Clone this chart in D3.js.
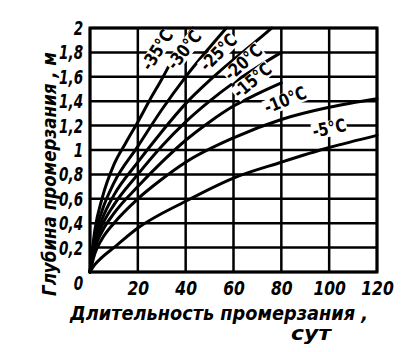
<!DOCTYPE html>
<html><head><meta charset="utf-8">
<script src="https://cdn.jsdelivr.net/npm/d3@7/dist/d3.min.js"></script>
<style>body{margin:0;background:#fff;} svg{display:block}</style>
</head><body><svg id="c" width="419" height="352"></svg>
<script>
// ---- data ----
const xTicks = [0, 20, 40, 60, 80, 100, 120];
const xTickLabels = ["", "20", "40", "60", "80", "100", "120"];
const yTicks = [0, 0.2, 0.4, 0.6, 0.8, 1.0, 1.2, 1.4, 1.6, 1.8, 2.0];
const yTickLabels = ["0", "0,2", "0,4", "0,6", "0,8", "1", "1,2", "1,4", "1,6", "1,8", "2"];
const seriesNames = ["-35°C", "-30°C", "-25°C", "-20°C", "-15°C", "-10°C", "-5°C"];

const days35 = [0, 2, 5, 10, 15, 20, 25, 30, 35, 43];
const depth35 = [0, 0.34, 0.6, 0.88, 1.06, 1.23, 1.41, 1.58, 1.76, 2.0];
const days30 = [0, 2, 5, 10, 20, 30, 40, 50, 57];
const depth30 = [0, 0.29, 0.5, 0.73, 1.03, 1.33, 1.6, 1.84, 2.0];
const days25 = [0, 2, 5, 10, 20, 30, 40, 50, 60, 70, 76];
const depth25 = [0, 0.25, 0.43, 0.63, 0.9, 1.15, 1.38, 1.57, 1.74, 1.9, 2.0];
const days20 = [0, 2, 5, 10, 20, 30, 40, 50, 60, 70, 80];
const depth20 = [0, 0.22, 0.38, 0.55, 0.8, 1.03, 1.23, 1.4, 1.55, 1.68, 1.8];
const days15 = [0, 2, 5, 10, 20, 30, 40, 50, 60, 70, 80];
const depth15 = [0, 0.19, 0.33, 0.48, 0.7, 0.9, 1.08, 1.23, 1.36, 1.46, 1.55];
const days10 = [0, 2, 5, 10, 20, 30, 40, 60, 80, 100, 120];
const depth10 = [0, 0.15, 0.27, 0.4, 0.6, 0.76, 0.9, 1.1, 1.25, 1.35, 1.42];
const days5 = [0, 2, 5, 10, 20, 40, 60, 80, 100, 120];
const depth5 = [0, 0.06, 0.12, 0.2, 0.36, 0.58, 0.77, 0.9, 1.02, 1.12];

// label anchor (in data units) and rotation for each curve label
const labelDays = [28, 39.3, 53.6, 64, 67.8, 81.6, 100];
const labelDepth = [1.82, 1.82, 1.8, 1.72, 1.57, 1.41, 1.18];
const labelAngle = [-58, -52, -45, -42, -40, -22, -12];

// ---- chart ----
const svg = d3.select("#c");
const x = d3.scaleLinear().domain([0, 120]).range([90, 377]);
const y = d3.scaleLinear().domain([0, 2]).range([272, 28]);
const fontF = "'DejaVu Sans',sans-serif";

// grid
svg.append("g").selectAll("line").data(xTicks).join("line")
  .attr("x1", d => x(d)).attr("x2", d => x(d))
  .attr("y1", y(0)).attr("y2", y(2))
  .attr("stroke", "#000").attr("stroke-width", 2.5);
svg.append("g").selectAll("line").data(yTicks).join("line")
  .attr("x1", x(0)).attr("x2", x(120))
  .attr("y1", d => y(d)).attr("y2", d => y(d))
  .attr("stroke", "#000").attr("stroke-width", 2.5);

// tick labels via d3 axes
const ax = svg.append("g").attr("transform", `translate(0,${y(0)})`)
  .call(d3.axisBottom(x).tickValues(xTicks).tickSize(0).tickPadding(9)
    .tickFormat((d, i) => xTickLabels[i]));
const ay = svg.append("g").attr("transform", `translate(${x(0)},0)`)
  .call(d3.axisLeft(y).tickValues(yTicks).tickSize(0).tickPadding(10)
    .tickFormat((d, i) => yTickLabels[i]));
[ax, ay].forEach(g => {
  g.select(".domain").remove();
  g.selectAll("text").attr("font-family", fontF).attr("font-size", 20)
    .attr("font-weight", "bold").attr("font-style", "italic").attr("fill", "#000");
});
ax.selectAll("text").attr("transform", "scale(0.78,1)");
ay.selectAll("text").attr("transform", "scale(0.68,1)");
ay.selectAll(".tick").filter(d => d === 0).select("text").attr("dy", "0.85em");

// curves
const allDays = [days35, days30, days25, days20, days15, days10, days5];
const allDepth = [depth35, depth30, depth25, depth20, depth15, depth10, depth5];
const line = d3.line().x(d => x(d[0])).y(d => y(d[1])).curve(d3.curveMonotoneX);
allDays.forEach((ds, i) => {
  const pts = ds.map((d, j) => [d, allDepth[i][j]]);
  svg.append("path").attr("d", line(pts)).attr("fill", "none")
    .attr("stroke", "#000").attr("stroke-width", 3).attr("stroke-linecap", "round");
});

// curve labels with white backing
seriesNames.forEach((name, i) => {
  const g = svg.append("g")
    .attr("transform", `translate(${x(labelDays[i])},${y(labelDepth[i])}) rotate(${labelAngle[i]}) scale(0.8,1)`);
  const bg = g.append("rect").attr("fill", "#fff");
  const t = g.append("text")
    .attr("text-anchor", "middle").attr("dy", "0.35em")
    .attr("font-family", fontF).attr("font-size", 18).attr("font-weight", "bold")
    .attr("fill", "#000").text(name);
  const b = t.node().getBBox();
  bg.attr("x", b.x - 1).attr("y", b.y + 3).attr("width", b.width + 2).attr("height", b.height - 5);
});

// border
svg.append("rect").attr("x", x(0)).attr("y", y(2)).attr("width", x(120) - x(0))
  .attr("height", y(0) - y(2)).attr("fill", "none").attr("stroke", "#000").attr("stroke-width", 3);

// axis titles
function title(sel, len) {
  return sel.attr("font-family", fontF).attr("font-size", 19).attr("font-weight", "bold")
    .attr("font-style", "italic").attr("textLength", len).attr("lengthAdjust", "spacingAndGlyphs");
}
title(svg.append("text").attr("x", 70).attr("y", 320), 298).text("Длительность промерзания ,");
title(svg.append("text").attr("x", 291).attr("y", 340), 40).text("сут");
title(svg.append("text").attr("transform", "translate(56,296) rotate(-90)"), 244)
  .text("Глубина промерзания , м");
</script></body></html>
